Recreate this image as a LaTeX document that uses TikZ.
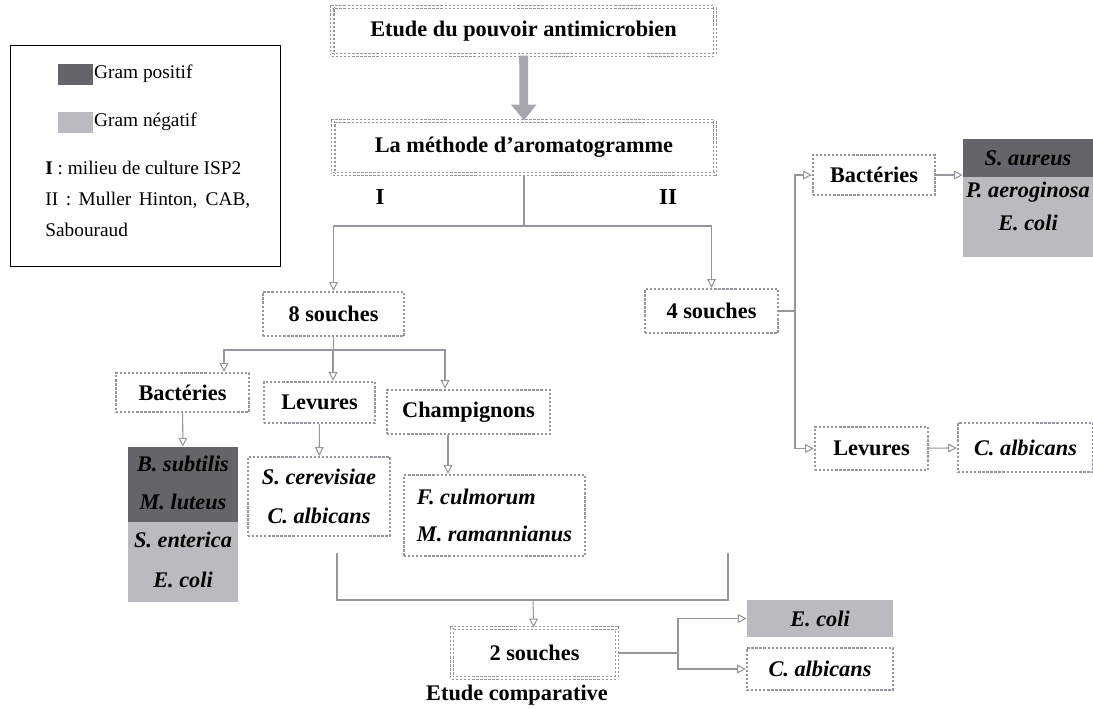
\documentclass[tikz,border=0pt]{standalone}
\usepackage{fontspec}
\setmainfont{Liberation Serif}
\usetikzlibrary{arrows.meta}

\definecolor{grampos}{RGB}{100,100,106}
\definecolor{gramneg}{RGB}{186,186,192}
\definecolor{bord}{RGB}{150,150,158}

\tikzset{
  boite/.style={draw=bord, line width=1.3pt, densely dotted, fill=white,
    font=\bfseries\fontsize{12.7}{15}\selectfont, inner sep=2pt},
  boitedouble/.style={boite, double=white, double distance=1.4pt, line width=0.7pt},
  boiteesp/.style={boite, font=\bfseries\itshape\fontsize{12.7}{15}\selectfont},
  espece/.style={font=\bfseries\itshape\fontsize{12.7}{15}\selectfont, inner sep=0pt},
  fleche/.style={draw=bord, line width=0.6pt, -{Triangle[open,length=5pt,width=5pt]}},
  liaison/.style={draw=bord, line width=0.6pt},
  grossefleche/.style={draw=bord!85, line width=5pt, -{Triangle[length=9pt,width=14pt]}},
  legtexte/.style={font=\fontsize{11}{13}\selectfont, anchor=west, inner sep=0pt},
}

\begin{document}
\begin{tikzpicture}[x=0.02cm, y=-0.02cm]
  \useasboundingbox (0,0) rectangle (1093,708);

  % Legende
  \node[draw=black, line width=0.8pt, minimum width=5.4cm, minimum height=4.42cm,
    anchor=north west] (legende) at (10,45) {};
  \node[fill=grampos, minimum width=0.72cm, minimum height=0.42cm, inner sep=0pt] (swPos) at (75.5,74) {};
  \node[legtexte] (txtPos) at (swPos.east) {Gram positif};
  \node[fill=gramneg, minimum width=0.72cm, minimum height=0.42cm, inner sep=0pt] (swNeg) at (75.5,122) {};
  \node[legtexte] (txtNeg) at (swNeg.east) {Gram négatif};
  \node[legtexte] (ligneI) at (45,168) {\textbf{I} : milieu de culture ISP2};
  \node[legtexte] (ligneII) at (45,200) {\makebox[4.1cm][s]{II : Muller Hinton, CAB,}};
  \node[legtexte] (ligneSab) at (45,230) {Sabouraud};

  % Haut
  \node[boitedouble, minimum width=7.66cm, minimum height=0.96cm] (titre) at (523.5,31) {Etude du pouvoir antimicrobien};
  \node[boitedouble, minimum width=7.64cm, minimum height=1.06cm] (methode) at (524,147.5) {La méthode d’aromatogramme};
  \node[font=\bfseries\fontsize{13}{15}\selectfont] (numI) at (380,197) {I};
  \node[font=\bfseries\fontsize{13}{15}\selectfont] (numII) at (668,197) {II};

  \node[boite, minimum width=2.82cm, minimum height=0.88cm] (huit) at (333.5,314) {8 souches};
  \node[boite, minimum width=2.66cm, minimum height=0.88cm] (quatre) at (711.5,311) {4 souches};

  % Branche II
  \node[boite, minimum width=2.44cm, minimum height=0.8cm] (bactD) at (874,175) {Bactéries};
  \node[boite, minimum width=2.26cm, minimum height=0.86cm] (levD) at (871.5,448.5) {Levures};
  \node[espece, fill=grampos, minimum width=2.6cm, minimum height=0.76cm] (saureus) at (1028,158) {S. aureus};
  \node[espece, fill=gramneg, minimum width=2.6cm, minimum height=0.62cm] (paerug) at (1028,192.5) {P. aeroginosa};
  \node[espece, fill=gramneg, minimum width=2.6cm, anchor=north, text height=0.44cm,
    text depth=0.54cm] (ecoliD) at (1028,208) {E. coli};
  \node[boiteesp, minimum width=2.7cm, minimum height=0.98cm] (albD) at (1025.5,447.5) {C. albicans};

  % Branche I
  \node[boite, minimum width=2.66cm, minimum height=0.78cm] (bactG) at (182.5,392.5) {Bactéries};
  \node[boite, minimum width=2.22cm, minimum height=0.82cm] (levG) at (319.5,402.5) {Levures};
  \node[boite, minimum width=3.26cm, minimum height=0.88cm] (champ) at (468.5,412) {Champignons};

  \node[espece, fill=grampos, minimum width=2.2cm, minimum height=0.68cm] (bsub) at (183,464) {B. subtilis};
  \node[espece, fill=grampos, minimum width=2.2cm, minimum height=0.82cm] (mlut) at (183,501.5) {M. luteus};
  \node[espece, fill=gramneg, minimum width=2.2cm, minimum height=0.72cm] (sent) at (183,540) {S. enterica};
  \node[espece, fill=gramneg, minimum width=2.2cm, minimum height=0.88cm] (ecoliG) at (183,580) {E. coli};

  \node[boiteesp, align=center, minimum width=2.84cm, minimum height=1.58cm] (levEsp) at (319,496.5)
    {S. cerevisiae\\[7pt]C. albicans};
  \node[boiteesp, align=left, minimum width=3.62cm, minimum height=1.62cm] (champEsp) at (494.5,515.5)
    {F. culmorum\\[6.5pt]M. ramannianus};

  % Bas
  \coordinate (gaucheHaut) at (337,553);
  \coordinate (droiteHaut) at (728,553);
  \coordinate (fusion) at (533,600);
  \node[boitedouble, minimum width=3.3cm, minimum height=1.0cm] (deux) at (534.5,653) {2 souches};
  \node[font=\bfseries\fontsize{12.7}{15}\selectfont] (comparative) at (517,695) {Etude comparative};
  \node[espece, fill=gramneg, minimum width=2.92cm, minimum height=0.74cm] (ecoliB) at (820,618.5) {E. coli};
  \node[boiteesp, minimum width=2.92cm, minimum height=0.84cm] (albB) at (820,669) {C. albicans};

  % Liaisons
  \draw[grossefleche] (titre) -- (methode);

  \coordinate (bifI) at (524,226);
  \draw[liaison] (methode) -- (bifI);
  \draw[fleche] (bifI) -| (huit);
  \draw[fleche] (bifI) -| (quatre);

  \coordinate (bifII) at (795,311);
  \draw[liaison] (quatre) -- (bifII);
  \draw[fleche] (bifII) |- (bactD);
  \draw[fleche] (bifII) |- (levD);
  \draw[fleche] (bactD) -- (bactD -| saureus.west);
  \draw[fleche] (levD) -- (albD);

  \coordinate (bifG) at (333.5,350);
  \draw[liaison] (huit) -- (bifG);
  \draw[fleche] (bifG) -| ([xshift=0.83cm]bactG.north);
  \draw[fleche] (bifG) -| ([xshift=0.27cm]levG.north);
  \draw[fleche] (bifG) -| ([xshift=-0.47cm]champ.north);
  \draw[fleche] (bactG) -- (bsub);
  \draw[fleche] (levG) -- (levEsp);
  \draw[fleche] ([xshift=-0.41cm]champ.south) -- ([xshift=-0.41cm]champ.south |- champEsp.north);

  \draw[liaison] (gaucheHaut) |- (fusion) -| (droiteHaut);
  \draw[fleche] (fusion) -- (deux);
  \coordinate (bifB) at (678,653);
  \draw[liaison] (deux) -- (bifB);
  \draw[fleche] (bifB) |- (ecoliB);
  \draw[fleche] (bifB) |- (albB);
\end{tikzpicture}
\end{document}
